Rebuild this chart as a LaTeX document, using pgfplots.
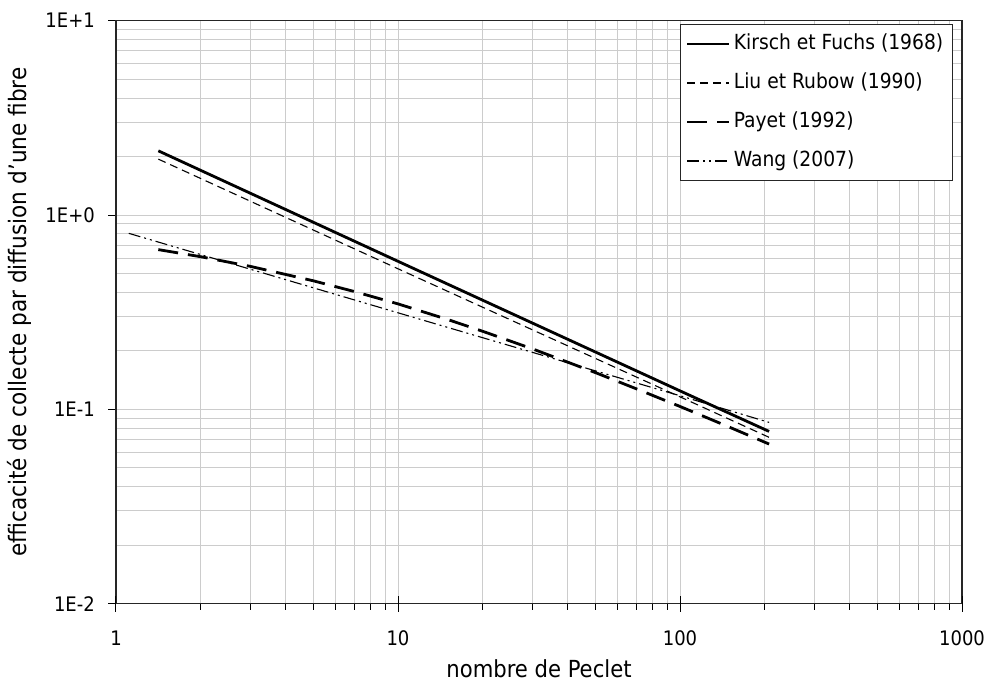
\documentclass[border=0pt]{standalone}
\usepackage{pgfplots}
\pgfplotsset{compat=1.18}
\usepackage{fontspec}
\setmainfont{DejaVu Sans Condensed}

\begin{document}
\begin{tikzpicture}
\useasboundingbox (0pt,0pt) rectangle (989pt,682pt);
\begin{axis}[
  at={(116pt,78.3pt)}, anchor=south west,
  scale only axis, width=846pt, height=583pt,
  xmode=log, ymode=log,
  xmin=1, xmax=1000, ymin=0.01, ymax=10,
  xtick={1,10,100,1000}, xticklabels={1,10,100,1000},
  ytick={0.01,0.1,1,10}, yticklabels={1E-2,1E-1,1E+0,1E+1},
  minor xtick={2,3,4,5,6,7,8,9,20,30,40,50,60,70,80,90,200,300,400,500,600,700,800,900},
  minor ytick={0.02,0.03,0.04,0.05,0.06,0.07,0.08,0.09,0.2,0.3,0.4,0.5,0.6,0.7,0.8,0.9,2,3,4,5,6,7,8,9},
  xtick pos=bottom, ytick pos=left,
  tick align=outside,
  major tick length=8pt, minor tick length=6pt,
  every minor y tick/.append style={draw opacity=0},
  extra x ticks={1,10,100,1000}, extra x tick labels={},
  extra x tick style={tick align=center, major tick length=16pt, grid=none},
  grid=both,
  major grid style={gray!40, line width=1pt},
  minor grid style={gray!40, line width=1pt},
  axis line style={black!85, line width=1.3pt},
  tick style={black, line width=1pt},
  ticklabel style={font=\fontsize{20pt}{24pt}\selectfont, inner sep=0pt},
  xticklabel style={anchor=base, yshift=-34pt},
  yticklabel style={anchor=east, xshift=-13pt},
  label style={font=\fontsize{23.5pt}{28pt}\selectfont},
  xlabel={nombre de Peclet},
  ylabel={efficacité de collecte par diffusion d'une fibre},
  xlabel style={at={(axis description cs:0.5,-0.1274)}, anchor=base},
  ylabel style={at={(axis description cs:-0.1056,0.5)}, anchor=base,
    font=\fontsize{24pt}{28pt}\selectfont},
  legend cell align=left,
  legend image code/.code={\draw[#1] (0pt,0pt) -- (42pt,0pt);},
  legend style={at={(axis description cs:0.989,0.9943)}, anchor=north east,
    draw=black!85, line width=1pt, fill=white,
    font=\fontsize{20.8pt}{25pt}\selectfont,
    inner xsep=6pt, inner ysep=7.5pt, row sep=15pt,
    nodes={inner sep=3pt, text height=14pt, text depth=4pt}},
]
% Kirsch et Fuchs (1968)
\addplot[black, line width=2.8pt] coordinates {
  (1.413,2.14) (10,0.578) (100,0.1245) (207,0.0770)
};
\addlegendentry{Kirsch et Fuchs (1968)}
% Liu et Rubow (1990)
\addplot[black, line width=1.1pt, dash pattern=on 8pt off 5pt] coordinates {
  (1.413,1.94) (10,0.529) (100,0.116) (207,0.0718)
};
\addlegendentry{Liu et Rubow (1990)}
% Payet (1992)
\addplot[black, line width=2.8pt, dash pattern=on 20pt off 10pt] coordinates {
  (1.413,0.664) (2,0.610) (3,0.544) (5,0.459) (7,0.404) (10,0.349)
  (15,0.290) (20,0.252) (30,0.2047) (50,0.1548) (70,0.1276)
  (100,0.1035) (150,0.0809) (207,0.0663)
};
\addlegendentry{Payet (1992)}
% Wang (2007)
\addplot[black, line width=1.1pt, dash pattern=on 12pt off 4pt on 2pt off 4pt on 2pt off 4pt] coordinates {
  (1.11,0.805) (10,0.314) (100,0.1175) (207,0.0857)
};
\addlegendentry{Wang (2007)}
\end{axis}
\end{tikzpicture}
\end{document}
